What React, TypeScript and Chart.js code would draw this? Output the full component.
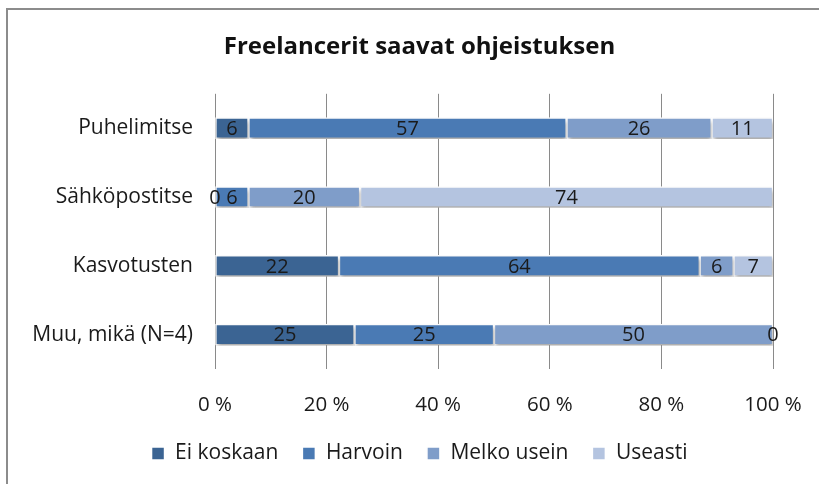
import { useEffect, useRef } from "react";
import { Chart, registerables } from "chart.js";

Chart.register(...registerables);

const title = "Freelancerit saavat ohjeistuksen";
const categories = ["Puhelimitse", "Sähköpostitse", "Kasvotusten", "Muu, mikä (N=4)"];
const seriesNames = ["Ei koskaan", "Harvoin", "Melko usein", "Useasti"];
const eiKoskaan = [6, 0, 22, 25];
const harvoin = [57, 6, 64, 25];
const melkoUsein = [26, 20, 6, 50];
const useasti = [11, 74, 7, 0];
const seriesColors = ["#3B6493", "#4A7AB4", "#7F9DC9", "#B4C4E0"];
const xTickValues = [0, 20, 40, 60, 80, 100];

const FONT = "'Open Sans', Lato, sans-serif";

export default function App() {
  const ref = useRef<HTMLCanvasElement | null>(null);

  useEffect(() => {
    document.body.style.margin = "0";
    const canvas = ref.current;
    if (!canvas) return;
    const raw = [eiKoskaan, harvoin, melkoUsein, useasti];
    const totals = categories.map((_, i) => raw.reduce((s, arr) => s + arr[i], 0));
    const datasets = raw.map((arr, k) => ({
      label: seriesNames[k],
      data: arr.map((v, i) => (v / totals[i]) * 100),
      rawValues: arr,
      backgroundColor: seriesColors[k],
      borderColor: "#ffffff",
      borderWidth: 1.5,
      borderSkipped: false as const,
      barThickness: 21,
    }));

    const shadowPlugin = {
      id: "barShadow",
      beforeDatasetsDraw(chart: any) {
        const ctx = chart.ctx;
        ctx.save();
        ctx.shadowColor = "rgba(0,0,0,0.35)";
        ctx.shadowBlur = 4;
        ctx.shadowOffsetX = 1;
        ctx.shadowOffsetY = 3;
      },
      afterDatasetsDraw(chart: any) {
        chart.ctx.restore();
      },
    };

    const labelPlugin = {
      id: "segLabels",
      afterDatasetsDraw(chart: any) {
        const ctx = chart.ctx;
        ctx.save();
        ctx.font = `20px ${FONT}`;
        ctx.fillStyle = "#1a1a1a";
        ctx.textAlign = "center";
        ctx.textBaseline = "middle";
        chart.data.datasets.forEach((ds: any, di: number) => {
          const meta = chart.getDatasetMeta(di);
          meta.data.forEach((el: any, i: number) => {
            const x = (el.x + el.base) / 2;
            ctx.fillText(String(ds.rawValues[i]), x, el.y + 1);
          });
        });
        ctx.restore();
      },
    };

    const chart = new Chart(canvas, {
      type: "bar",
      data: { labels: categories, datasets: datasets as any },
      plugins: [shadowPlugin, labelPlugin],
      options: {
        animation: false,
        responsive: false,
        indexAxis: "y",
        layout: { padding: { left: 20, right: 0, top: 0, bottom: 10 } },
        scales: {
          x: {
            stacked: true,
            min: 0,
            max: 100,
            afterBuildTicks(axis: any) {
              axis.ticks = xTickValues.map((v) => ({ value: v }));
            },
            afterFit(axis: any) {
              axis.height = 50;
            },
            ticks: {
              padding: 4,
              color: "#1a1a1a",
              font: { family: FONT, size: 20.5 },
              callback: (v: any) => `${v} %`,
            },
            grid: {
              color: "#8a8a8a",
              lineWidth: 1,
              drawTicks: true,
              tickLength: 20,
              tickColor: "rgba(0,0,0,0)",
            },
            border: { display: false },
          },
          y: {
            stacked: true,
            afterFit(axis: any) {
              axis.width = 195;
            },
            ticks: {
              padding: 22,
              color: "#1a1a1a",
              font: { family: FONT, size: 21 },
            },
            grid: { display: false, drawTicks: false },
            border: { display: false },
          },
          yRight: {
            position: "right",
            display: true,
            afterFit(axis: any) {
              axis.width = 46;
            },
            ticks: { display: false },
            grid: { display: false, drawTicks: false },
            border: { display: false },
          },
        },
        plugins: {
          title: {
            display: true,
            text: title,
            color: "#111",
            font: { family: FONT, size: 24, weight: "bold" },
            padding: { top: 33, bottom: 32 },
          },
          legend: {
            position: "bottom",
            labels: {
              color: "#1a1a1a",
              font: { family: FONT, size: 21 },
              boxWidth: 13,
              boxHeight: 13,
              padding: 24,
            },
          },
          tooltip: { enabled: false },
        },
      },
    });
    return () => chart.destroy();
  }, []);

  return (
    <div style={{ position: "relative", width: 819, height: 484, overflow: "hidden", background: "#fff" }}>
      <div
        style={{
          position: "absolute",
          left: 6,
          top: 8,
          width: 900,
          height: 600,
          borderLeft: "2.5px solid #8c8c8c",
          borderTop: "2.5px solid #8c8c8c",
        }}
      />
      <canvas ref={ref} width={819} height={484} style={{ position: "absolute", left: 0, top: 0 }} />
    </div>
  );
}
